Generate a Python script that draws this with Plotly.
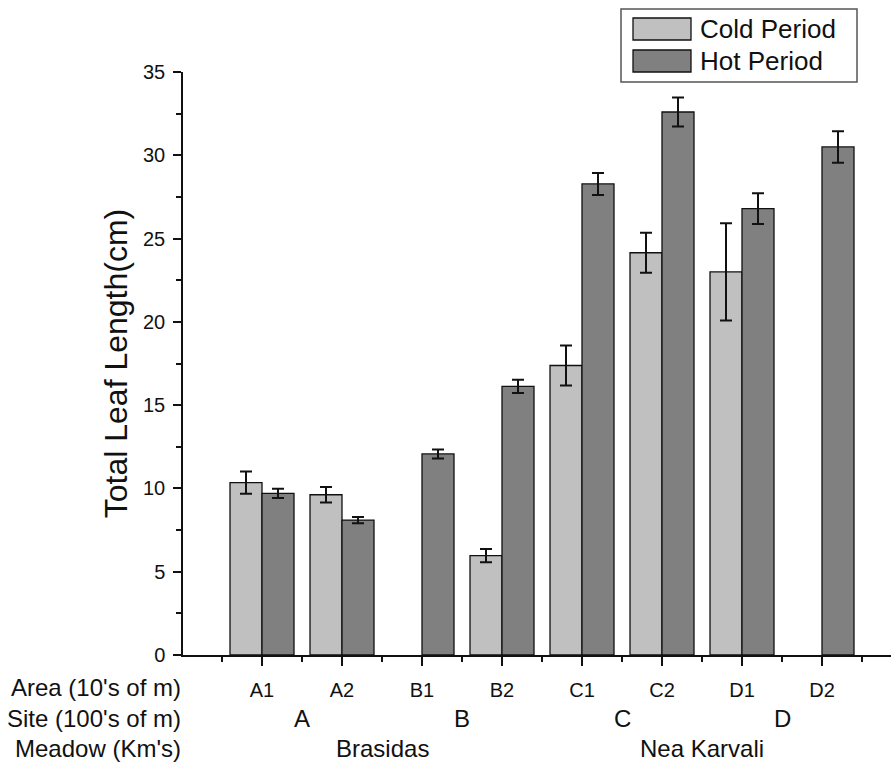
import plotly.graph_objects as go

# Total leaf length per area, cold vs hot sampling period
areas = ["A1", "A2", "B1", "B2", "C1", "C2", "D1", "D2"]
cold_mean = [10.35, 9.62, None, 5.97, 17.38, 24.15, 23.0, None]
cold_err = [0.67, 0.47, None, 0.40, 1.2, 1.2, 2.92, None]
hot_mean = [9.70, 8.10, 12.07, 16.13, 28.28, 32.6, 26.8, 30.5]
hot_err = [0.28, 0.19, 0.27, 0.40, 0.66, 0.87, 0.92, 0.95]

sites = ["A", "B", "C", "D"]
meadows = ["Brasidas", "Nea Karvali"]
meadow_sites = [["A", "B"], ["C", "D"]]
series_names = ["Cold Period", "Hot Period"]
colors = ["#c0c0c0", "#808080"]

FONT = "Liberation Sans, Arial, sans-serif"
INK = "#111"
W, H = 891, 762
ML, MR, MT, MB = 183, 0, 72, 107
PW, PH = W - ML - MR, H - MT - MB


def px(x):
    return (x - ML) / PW


def py(y):
    return (H - MB - y) / PH


xs = list(range(len(areas)))

fig = go.Figure()
for name, means, errs, col in [
    (series_names[0], cold_mean, cold_err, colors[0]),
    (series_names[1], hot_mean, hot_err, colors[1]),
]:
    fig.add_trace(go.Bar(
        x=xs, y=means, name=name,
        marker=dict(color=col, line=dict(color=INK, width=1.3)),
        error_y=dict(type="data", array=errs, visible=True,
                     color=INK, thickness=2, width=6),
        showlegend=False,
    ))

annotations = []
# row titles for the nested category axis
row_titles = [("Area (10's of m)", 687), ("Site (100's of m)", 718), ("Meadow (Km's)", 748)]
for txt, yy in row_titles:
    annotations.append(dict(text=txt, xref="paper", yref="paper", x=0, y=py(yy),
                            xanchor="right", yanchor="middle", showarrow=False,
                            font=dict(family=FONT, size=24, color=INK)))

# site letters centred under their areas
for s in sites:
    idx = [i for i, a in enumerate(areas) if a.startswith(s)]
    annotations.append(dict(text=s, xref="x", yref="paper", x=sum(idx) / len(idx), y=py(718),
                            xanchor="center", yanchor="middle", showarrow=False,
                            font=dict(family=FONT, size=24, color=INK)))

# meadow names centred under their sites
for m, ss in zip(meadows, meadow_sites):
    idx = [i for i, a in enumerate(areas) if a[0] in ss]
    annotations.append(dict(text=m, xref="x", yref="paper", x=sum(idx) / len(idx), y=py(748),
                            xanchor="center", yanchor="middle", showarrow=False,
                            font=dict(family=FONT, size=24, color=INK)))

# legend box drawn by hand
shapes = [dict(type="rect", xref="paper", yref="paper",
               x0=px(621), x1=px(857), y0=py(82), y1=py(9),
               line=dict(color="#555", width=1.5), fillcolor="white")]
for k, (name, col) in enumerate(zip(series_names, colors)):
    top = 18 + k * 32
    shapes.append(dict(type="rect", xref="paper", yref="paper",
                       x0=px(633), x1=px(691), y0=py(top + 22), y1=py(top),
                       line=dict(color=INK, width=1.3), fillcolor=col))
    annotations.append(dict(text=name, xref="paper", yref="paper", x=px(698), y=py(top + 11),
                            xanchor="left", yanchor="middle", showarrow=False,
                            font=dict(family=FONT, size=26, color=INK)))

fig.update_layout(
    width=W, height=H,
    margin=dict(l=ML, r=MR, t=MT, b=MB, pad=0),
    paper_bgcolor="white", plot_bgcolor="white",
    barmode="group", bargap=0.2, bargroupgap=0,
    font=dict(family=FONT, color=INK),
    annotations=annotations, shapes=shapes,
    xaxis=dict(
        range=[-0.9875, 7.8625],
        tickvals=[-1] + xs, ticktext=[""] + areas,
        showline=True, linecolor=INK, linewidth=1.5,
        ticks="outside", ticklen=9, tickwidth=1.5, tickcolor=INK,
        tickfont=dict(family=FONT, size=20, color=INK),
        ticklabelstandoff=7,
        minor=dict(tickvals=[i + 0.5 for i in range(-2, 8)], ticks="outside",
                   ticklen=5, tickwidth=1.5, tickcolor=INK),
        showgrid=False, zeroline=False, fixedrange=True,
    ),
    yaxis=dict(
        range=[0, 35], dtick=5,
        showline=True, linecolor=INK, linewidth=1.5,
        ticks="outside", ticklen=8, tickwidth=1.5, tickcolor=INK,
        tickfont=dict(family=FONT, size=20, color=INK),
        ticklabelstandoff=4,
        minor=dict(dtick=2.5, ticks="outside", ticklen=5, tickwidth=1.5, tickcolor=INK),
        title=dict(text="Total Leaf Length(cm)", font=dict(family=FONT, size=32, color=INK),
                   standoff=6),
        showgrid=False, zeroline=False,
    ),
)

fig.write_html("out.html")
